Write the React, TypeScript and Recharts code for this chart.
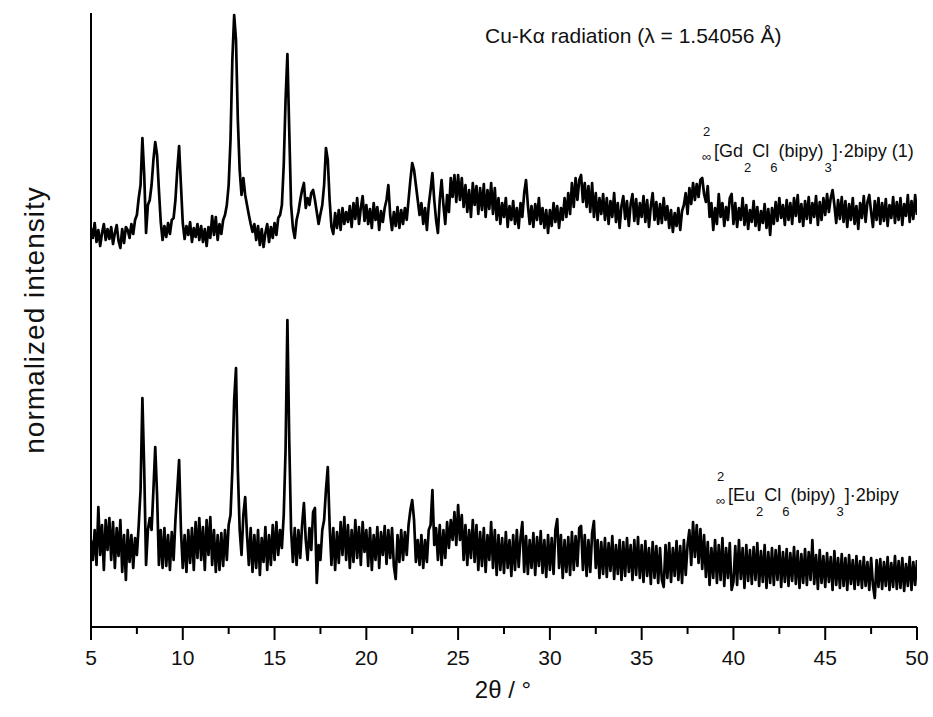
import { CartesianGrid, Line, LineChart, XAxis, YAxis } from "recharts";

// Cu-Ka powder patterns, 2theta 5–50° sampled every 0.1°
const TWO_THETA_START = 5;
const TWO_THETA_STEP = 0.1;

const X_TICKS = [5, 7.5, 10, 12.5, 15, 17.5, 20, 22.5, 25, 27.5, 30, 32.5, 35, 37.5, 40, 42.5, 45, 47.5, 50];

// upper trace: [Gd2Cl6(bipy)3]·2bipy (1), offset intensity
const GD_INTENSITY = [
  399, 389, 404, 385, 397, 381, 394, 403, 387, 398, // 5
  388, 400, 383, 394, 402, 386, 379, 398, 384, 400, // 6
  397, 389, 403, 393, 407, 412, 429, 442, 489, 452, // 7
  394, 422, 427, 442, 467, 485, 472, 437, 405, 387, // 8
  401, 390, 404, 393, 407, 409, 427, 457, 481, 442, // 9
  404, 388, 401, 392, 405, 385, 399, 390, 403, 387, // 10
  401, 385, 398, 381, 400, 389, 411, 392, 410, 387, // 11
  403, 393, 407, 412, 422, 442, 487, 567, 612, 587, // 12
  507, 457, 432, 449, 432, 422, 412, 403, 395, 403, // 13
  387, 401, 382, 398, 380, 394, 403, 385, 400, 389, // 14
  404, 392, 409, 412, 422, 462, 527, 573, 497, 422, // 15
  399, 389, 407, 415, 427, 437, 444, 419, 429, 422, // 16
  434, 437, 427, 415, 403, 413, 422, 442, 479, 467, // 17
  427, 400, 393, 414, 399, 417, 397, 419, 403, 415, // 18
  405, 421, 400, 424, 408, 429, 403, 419, 431, 406, // 19
  422, 403, 418, 399, 424, 407, 420, 397, 416, 405, // 20
  419, 427, 442, 412, 397, 415, 401, 420, 399, 417, // 21
  403, 419, 407, 427, 447, 464, 457, 442, 427, 412, // 22
  424, 403, 419, 397, 422, 437, 454, 427, 407, 394, // 23
  427, 447, 422, 403, 432, 415, 449, 430, 452, 425, // 24
  452, 427, 449, 420, 442, 415, 437, 410, 444, 422, // 25
  441, 413, 439, 417, 443, 410, 437, 418, 444, 413, // 26
  439, 407, 429, 403, 424, 410, 429, 400, 421, 407, // 27
  426, 403, 419, 399, 424, 410, 434, 447, 422, 403, // 28
  421, 400, 423, 407, 429, 403, 419, 399, 417, 394, // 29
  417, 401, 424, 405, 421, 399, 419, 407, 429, 410, // 30
  434, 413, 444, 420, 449, 427, 447, 452, 425, 444, // 31
  420, 441, 415, 444, 410, 434, 407, 429, 413, 433, // 32
  407, 429, 403, 426, 410, 434, 405, 424, 399, 421, // 33
  431, 408, 426, 401, 423, 433, 406, 428, 403, 424, // 34
  410, 431, 405, 427, 400, 421, 434, 407, 425, 403, // 35
  423, 404, 429, 407, 421, 399, 417, 395, 414, 401, // 36
  419, 397, 416, 422, 434, 413, 439, 423, 444, 427, // 37
  443, 430, 447, 449, 433, 425, 441, 410, 424, 397, // 38
  419, 403, 433, 410, 424, 401, 420, 407, 429, 433, // 39
  403, 424, 400, 419, 407, 429, 402, 422, 398, 417, // 40
  405, 426, 401, 420, 397, 416, 404, 423, 399, 418, // 41
  392, 419, 403, 425, 406, 429, 409, 422, 402, 427, // 42
  407, 424, 403, 429, 411, 432, 405, 423, 401, 426, // 43
  408, 430, 404, 424, 410, 431, 402, 425, 407, 429, // 44
  412, 433, 415, 429, 437, 422, 404, 427, 408, 430, // 45
  405, 426, 400, 423, 407, 429, 403, 421, 398, 424, // 46
  409, 431, 405, 425, 432, 415, 400, 426, 407, 429, // 47
  403, 424, 406, 428, 401, 422, 409, 430, 404, 425, // 48
  407, 429, 402, 423, 411, 432, 405, 426, 408, 432, // 49
  412,
];

// lower trace: [Eu2Cl6(bipy)3]·2bipy
const EU_INTENSITY = [
  87, 67, 97, 62, 120, 72, 102, 57, 107, 77, // 5
  109, 67, 105, 59, 99, 71, 107, 55, 92, 47, // 6
  97, 65, 92, 59, 89, 72, 102, 137, 229, 157, // 7
  62, 97, 109, 97, 137, 180, 132, 62, 97, 59, // 8
  99, 61, 92, 57, 95, 67, 107, 137, 167, 97, // 9
  59, 92, 55, 97, 64, 99, 57, 105, 69, 109, // 10
  67, 100, 57, 107, 72, 110, 62, 97, 55, 92, // 11
  57, 94, 61, 97, 67, 102, 112, 157, 227, 259, // 12
  157, 97, 72, 112, 130, 92, 62, 99, 55, 92, // 13
  59, 97, 52, 89, 65, 100, 57, 92, 62, 102, // 14
  67, 105, 72, 97, 79, 112, 177, 307, 187, 97, // 15
  65, 99, 62, 97, 69, 102, 124, 87, 67, 99, // 16
  77, 115, 119, 44, 82, 67, 97, 107, 137, 160, // 17
  102, 62, 99, 57, 95, 64, 105, 72, 110, 67, // 18
  102, 59, 97, 65, 107, 69, 100, 62, 105, 75, // 19
  97, 61, 99, 57, 92, 67, 100, 59, 95, 72, // 20
  101, 63, 97, 69, 99, 61, 48, 92, 65, 97, // 21
  67, 95, 72, 102, 117, 127, 107, 65, 87, 62, // 22
  92, 59, 87, 65, 97, 102, 137, 82, 99, 67, // 23
  102, 62, 97, 69, 105, 79, 107, 87, 115, 82, // 24
  122, 87, 112, 67, 102, 62, 97, 69, 107, 65, // 25
  102, 57, 95, 61, 99, 55, 92, 67, 105, 59, // 26
  97, 52, 92, 57, 89, 54, 95, 59, 87, 51, // 27
  92, 57, 97, 60, 89, 105, 55, 91, 53, 87, // 28
  59, 94, 52, 90, 61, 96, 54, 87, 50, 92, // 29
  57, 89, 53, 97, 108, 59, 92, 49, 87, 55, // 30
  90, 52, 95, 57, 91, 61, 99, 101, 57, 92, // 31
  51, 87, 55, 94, 106, 59, 87, 49, 85, 53, // 32
  89, 50, 84, 56, 91, 48, 82, 53, 87, 47, // 33
  85, 51, 89, 55, 82, 47, 87, 52, 90, 49, // 34
  82, 45, 86, 51, 79, 43, 85, 49, 81, 44, // 35
  79, 47, 40, 82, 49, 84, 45, 79, 51, 86, // 36
  47, 81, 44, 87, 52, 82, 97, 62, 105, 70, // 37
  102, 64, 98, 58, 92, 50, 85, 42, 79, 49, // 38
  87, 44, 82, 47, 89, 41, 79, 49, 84, 37, // 39
  45, 81, 42, 87, 48, 79, 39, 82, 46, 77, // 40
  43, 80, 47, 84, 41, 76, 45, 82, 39, 75, // 41
  44, 79, 42, 77, 47, 81, 40, 75, 45, 78, // 42
  41, 74, 46, 80, 43, 76, 39, 73, 44, 78, // 43
  42, 75, 47, 87, 43, 72, 38, 77, 44, 71, // 44
  40, 74, 45, 70, 37, 76, 42, 69, 39, 73, // 45
  41, 69, 37, 72, 43, 67, 38, 71, 42, 66, // 46
  39, 70, 41, 65, 37, 69, 42, 29, 67, 40, // 47
  68, 38, 65, 41, 70, 37, 64, 40, 71, 38, // 48
  66, 39, 69, 36, 63, 41, 70, 37, 65, 42, // 49
  67,
];

const FONT = "'Liberation Sans', Arial, Helvetica, sans-serif";
const INK = "#111";

const data = GD_INTENSITY.map((gd, i) => ({
  twoTheta: +(TWO_THETA_START + i * TWO_THETA_STEP).toFixed(1),
  gd,
  eu: EU_INTENSITY[i],
}));

function AxisTick(props: any) {
  const { x, y, payload } = props;
  const major = payload.value % 5 === 0;
  return (
    <g>
      <line x1={x} x2={x} y1={y} y2={y + (major ? 13 : 7)} stroke="#000" strokeWidth={2} />
      {major && (
        <text x={x} y={y + 38} textAnchor="middle" fontSize={21} fontFamily={FONT} fill={INK}>
          {payload.value}
        </text>
      )}
    </g>
  );
}

export default function App() {
  return (
    <div
      style={{
        position: "absolute",
        left: 0,
        top: 0,
        width: 933,
        height: 717,
        background: "#fff",
      }}
    >
      <LineChart
        width={933}
        height={717}
        data={data}
        margin={{ top: 13, right: 16, left: 89, bottom: 50 }}
      >
        <CartesianGrid stroke="none" />
        <XAxis
          dataKey="twoTheta"
          type="number"
          domain={[5, 50]}
          ticks={X_TICKS}
          interval={0}
          height={40}
          tickSize={0}
          tickMargin={0}
          tickLine={false}
          axisLine={{ stroke: "#000", strokeWidth: 2 }}
          tick={<AxisTick />}
          allowDataOverflow
        />
        <YAxis
          domain={[0, 614]}
          width={2}
          tick={false}
          tickLine={false}
          axisLine={{ stroke: "#000", strokeWidth: 2 }}
          allowDataOverflow
        />
        <Line
          dataKey="gd"
          type="linear"
          stroke="#000"
          strokeWidth={2.7}
          strokeLinejoin="round"
          dot={false}
          isAnimationActive={false}
        />
        <Line
          dataKey="eu"
          type="linear"
          stroke="#000"
          strokeWidth={2.7}
          strokeLinejoin="round"
          dot={false}
          isAnimationActive={false}
        />
      </LineChart>

      <svg
        width={933}
        height={717}
        style={{ position: "absolute", left: 0, top: 0, pointerEvents: "none" }}
        fontFamily={FONT}
        fill={INK}
      >
        <text x={485} y={43} fontSize={21}>
          Cu-Kα radiation (λ = 1.54056 Å)
        </text>

        <text x={702} y={161} fontSize={13}>∞</text>
        <text x={703} y={136} fontSize={13}>2</text>
        <text x={714} y={157} fontSize={18}>
          [Gd<tspan fontSize={13} dx={1} dy={15}>2</tspan>
          <tspan dx={1} dy={-15}>Cl</tspan>
          <tspan fontSize={13} dx={1} dy={15}>6</tspan>
          <tspan dx={1} dy={-15}>(bipy)</tspan>
          <tspan fontSize={13} dx={1} dy={15}>3</tspan>
          <tspan dx={1} dy={-15}>]·2bipy (1)</tspan>
        </text>

        <text x={716} y={505} fontSize={13}>∞</text>
        <text x={717} y={481} fontSize={13}>2</text>
        <text x={728} y={501} fontSize={18}>
          [Eu<tspan fontSize={13} dx={1} dy={15}>2</tspan>
          <tspan dx={1} dy={-15}>Cl</tspan>
          <tspan fontSize={13} dx={1} dy={15}>6</tspan>
          <tspan dx={1} dy={-15}>(bipy)</tspan>
          <tspan fontSize={13} dx={1} dy={15}>3</tspan>
          <tspan dx={1} dy={-15}>]·2bipy</tspan>
        </text>

        <text x={503} y={698} fontSize={24} textAnchor="middle">
          2θ / °
        </text>

        <text
          x={34}
          y={320}
          fontSize={28}
          textAnchor="middle"
          transform="rotate(-90 34 320)"
          dominantBaseline="central"
          letterSpacing={1}
        >
          normalized intensity
        </text>
      </svg>
    </div>
  );
}
